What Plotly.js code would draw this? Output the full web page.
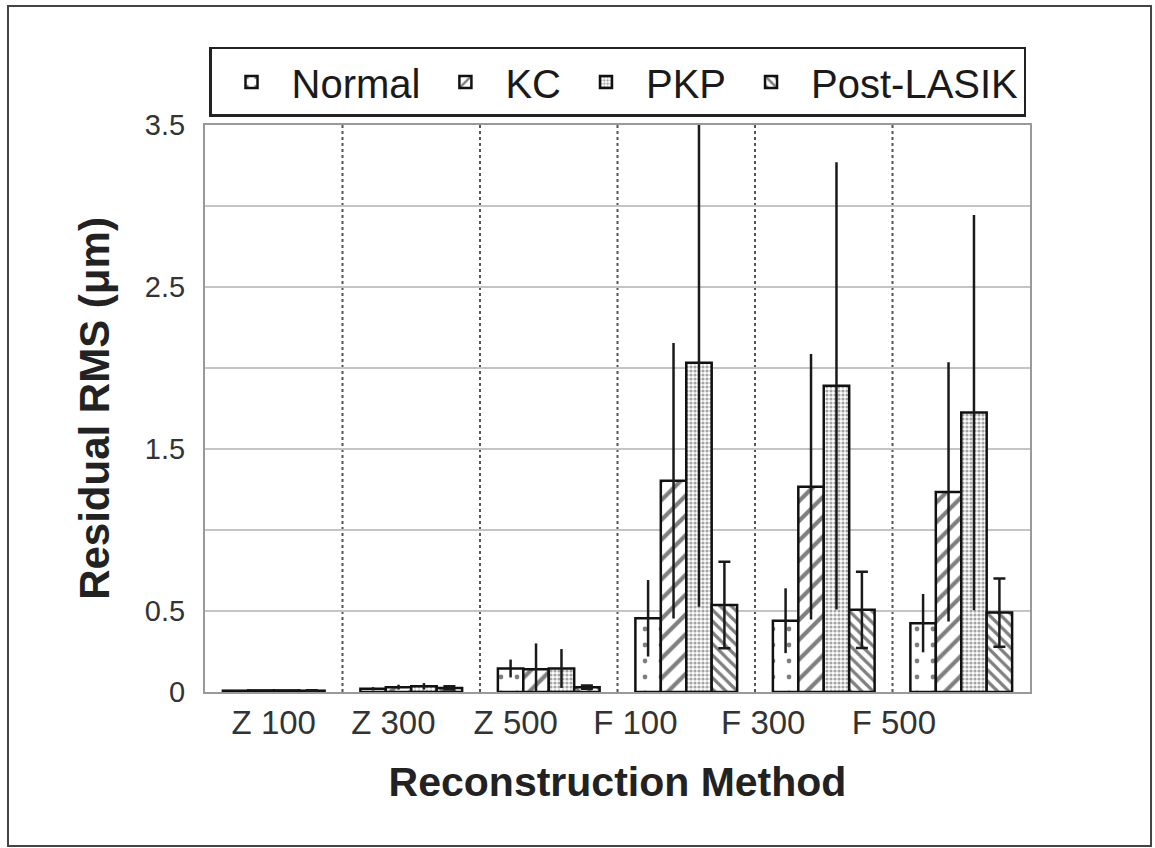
<!DOCTYPE html>
<html>
<head>
<meta charset="utf-8">
<script src="https://cdn.plot.ly/plotly-3.0.1.min.js"></script>
<style>
  html, body { margin: 0; padding: 0; background: #ffffff; }
  #chart { width: 1155px; height: 848px; }
</style>
</head>
<body>
<div id="chart"></div>
<script>
// ---- Data ----
const categories = ["Z 100", "Z 300", "Z 500", "F 100", "F 300", "F 500"];

const normalMean     = [0.008, 0.020, 0.145, 0.455, 0.440, 0.425];
const normalSD       = [0.003, 0.010, 0.055, 0.236, 0.200, 0.180];

const kcMean         = [0.010, 0.030, 0.140, 1.304, 1.267, 1.235];
const kcSD           = [0.003, 0.015, 0.160, 0.850, 0.820, 0.800];

const pkpMean        = [0.010, 0.035, 0.145, 2.033, 1.890, 1.725];
const pkpSD          = [0.003, 0.020, 0.120, 1.506, 1.380, 1.220];

const postLasikMean  = [0.008, 0.025, 0.030, 0.537, 0.507, 0.490];
const postLasikSD    = [0.003, 0.010, 0.010, 0.267, 0.235, 0.210];

const yTickValues = [0, 0.5, 1, 1.5, 2, 2.5, 3, 3.5];
const yTickLabels = ["0", "0.5", "", "1.5", "", "2.5", "", "3.5"];

// ---- Layout constants (label placement as in the reference) ----
const xLabelPos = [0.0, 0.87, 1.76, 2.63, 3.56, 4.51];

const xIdx = categories.map((_, i) => i);

function barTrace(name, mean, sd, pattern, capWidth) {
  return {
    type: "bar",
    name: name,
    x: xIdx,
    y: mean,
    error_y: { type: "data", array: sd, visible: true, color: "#1a1a1a", thickness: 2.5, width: capWidth },
    marker: {
      color: "#ffffff",
      line: { color: "#111111", width: 2.5 },
      pattern: Object.assign({ fillmode: "overlay", fgcolor: "#000000", bgcolor: "#ffffff" }, pattern)
    },
    hoverinfo: "name+y"
  };
}

const traces = [
  barTrace("Normal", normalMean, normalSD, { shape: ".", size: 16, solidity: 0.07 }, 0),
  barTrace("KC", kcMean, kcSD, { shape: "/", size: 14, solidity: 0.3 }, 0),
  barTrace("PKP", pkpMean, pkpSD, { shape: ".", size: 4, solidity: 0.5, fgcolor: "#4a4a4a" }, 0),
  barTrace("Post-LASIK", postLasikMean, postLasikSD, { shape: "\\", size: 8, solidity: 0.4 }, 6)
];

// vertical dotted separators between categories
const shapes = [];
for (let i = 0; i < categories.length - 1; i++) {
  shapes.push({
    type: "line", xref: "x", yref: "paper",
    x0: i + 0.5, x1: i + 0.5, y0: 0, y1: 1,
    line: { color: "#555555", width: 2, dash: "dot" },
    layer: "below"
  });
}
// outer frame around the figure
shapes.push({
  type: "rect", xref: "paper", yref: "paper",
  x0: -0.2388, x1: 1.1467, y0: -0.2716, y1: 1.2099,
  line: { color: "#444444", width: 2 }, fillcolor: "rgba(0,0,0,0)", layer: "below"
});

const layout = {
  width: 1155,
  height: 848,
  margin: { l: 205, r: 125, t: 125, b: 156 },
  paper_bgcolor: "#ffffff",
  plot_bgcolor: "#ffffff",
  font: { family: "Liberation Sans, Arial, sans-serif", color: "#222222" },
  barmode: "group",
  bargap: 0.26,
  bargroupgap: 0,
  showlegend: true,
  legend: {
    orientation: "h",
    x: 0.5, xanchor: "center",
    y: 1.1376, yanchor: "top",
    bgcolor: "#ffffff",
    bordercolor: "#222222",
    borderwidth: 2.5,
    font: { size: 40, color: "#1a1a1a", family: "Liberation Sans, Arial, sans-serif" },
    itemwidth: 70,
    traceorder: "normal"
  },
  xaxis: {
    type: "linear",
    range: [-0.5, categories.length - 0.5],
    tickmode: "array",
    tickvals: xLabelPos,
    ticktext: categories,
    tickfont: { family: "Liberation Sans, Arial, sans-serif", size: 33, color: "#333333" },
    ticks: "",
    showgrid: false,
    zeroline: false,
    showline: true, linecolor: "#999999", linewidth: 2, mirror: true,
    title: {
      text: "Reconstruction Method",
      font: { family: "Liberation Sans, Arial, sans-serif", size: 41, color: "#222222", weight: "bold" },
      standoff: 28
    },
    automargin: false
  },
  yaxis: {
    range: [0, 3.5],
    tickmode: "array",
    tickvals: yTickValues,
    ticktext: yTickLabels,
    tickfont: { family: "Liberation Sans, Arial, sans-serif", size: 29, color: "#333333" },
    ticks: "outside", ticklen: 12, tickcolor: "rgba(0,0,0,0)",
    showgrid: true, gridcolor: "#c4c4c4", gridwidth: 2,
    zeroline: false,
    showline: true, linecolor: "#999999", linewidth: 2, mirror: true,
    title: {
      text: "Residual RMS (μm)",
      font: { family: "Liberation Sans, Arial, sans-serif", size: 42, color: "#222222", weight: "bold" },
      standoff: 22
    },
    automargin: false
  },
  shapes: shapes
};

Plotly.newPlot("chart", traces, layout, { displayModeBar: false, staticPlot: true });
</script>
</body>
</html>
